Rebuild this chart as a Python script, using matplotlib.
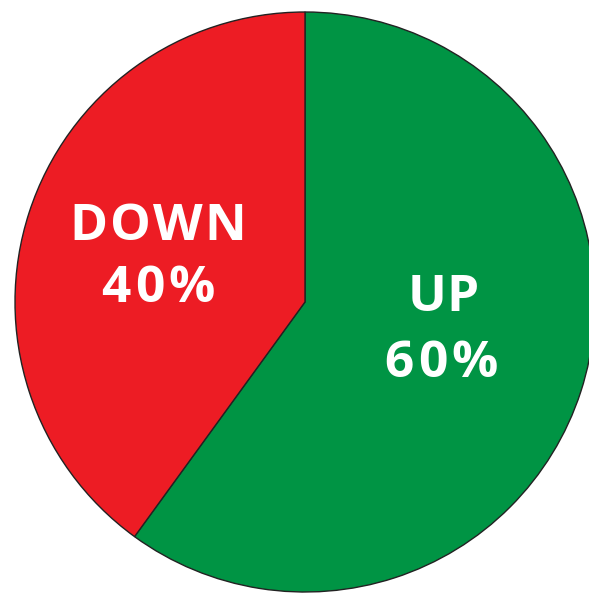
import matplotlib

matplotlib.use("Agg")

import matplotlib.pyplot as plt

labels = ["UP", "DOWN"]
shares = [60, 40]
colors = ["#009444", "#ED1C24"]

W, H = 589, 593

fig = plt.figure(figsize=(W / 100, H / 100), dpi=100)
ax = fig.add_axes([0, 0, 1, 1])

ax.pie(
    shares,
    colors=colors,
    startangle=90,
    counterclock=False,
    center=(305, 291),
    radius=290,
    wedgeprops={"edgecolor": "#222222", "linewidth": 1.0},
    frame=True,
)
ax.set_xlim(0, W)
ax.set_ylim(0, H)
ax.set_aspect("equal")
ax.axis("off")

renderer = fig.canvas.get_renderer()
text_style = dict(color="white", fontsize=37, fontweight="bold", family="Open Sans",
                  va="baseline", ha="left")


def spaced_text(xc, y, s, tracking):
    # draw char by char so the letters get some extra spacing
    parts = [ax.text(0, y, ch, **text_style) for ch in s]
    widths = [p.get_window_extent(renderer).width for p in parts]
    total = sum(widths) + tracking * (len(s) - 1)
    x = xc - total / 2
    for p, w in zip(parts, widths):
        p.set_x(x)
        x += w + tracking


# label positions (centre x, baseline y) in pixel space, y measured from bottom
spaced_text(443, 282, labels[0], 0)
spaced_text(441, 216, f"{shares[0]}%", 4)
spaced_text(158, 353, labels[1], 2)
spaced_text(158, 291, f"{shares[1]}%", 4)

plt.savefig("out.png", dpi=100)
plt.close()
